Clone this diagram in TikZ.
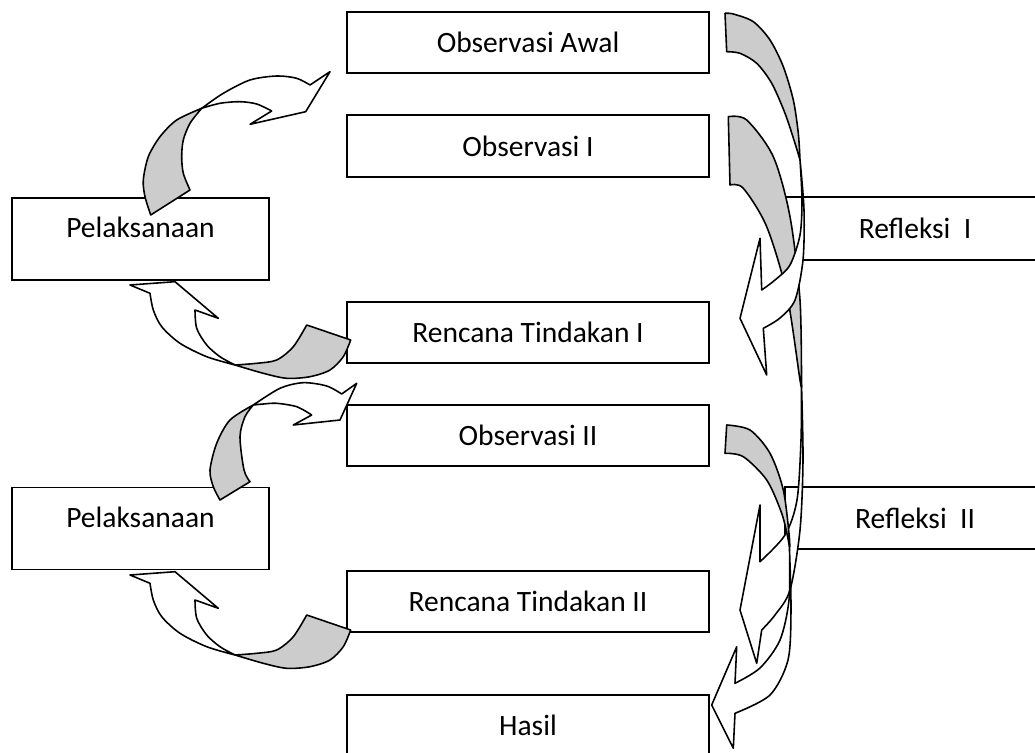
\documentclass[tikz,border=0pt]{standalone}
\usepackage{fontspec}
\setmainfont{Carlito}
\usetikzlibrary{positioning}
\definecolor{backgray}{RGB}{204,204,204}

\begin{document}
\begin{tikzpicture}[
  x=0.02cm, y=-0.02cm,
  font=\fontsize{16.8}{20}\selectfont,
  box/.style={draw, line width=1.1pt, fill=white, minimum width=7.24cm, minimum height=1.23cm, inner sep=0pt},
  sidebox/.style={draw, line width=1.1pt, fill=white, minimum width=5.14cm, minimum height=1.64cm, text height=0.41cm, text depth=0.47cm, inner sep=0pt},
  reflbox/.style={draw, line width=1.1pt, fill=white, minimum width=5.2cm, minimum height=1.25cm, inner sep=0pt},
  front/.style={draw, line width=0.9pt, fill=white, line join=round},
  back/.style={draw, line width=0.9pt, fill=backgray, line join=round}
]
\clip (0,0) rectangle (1035,753);
\fill[white] (0,0) rectangle (1035,753);

% boxes
\node[box] (obsawal) at (528,42.5) {Observasi Awal};
\node[box] (obs1) at (528,146) {Observasi I};
\node[box] (renc1) at (528,332.5) {Rencana Tindakan I};
\node[box] (obs2) at (528,435.5) {Observasi II};
\node[box] (renc2) at (528,601.5) {Rencana Tindakan II};
\node[box] (hasil) at (528,725.5) {Hasil};
\node[sidebox] (pel1) at (140.5,239) {Pelaksanaan};
\node[sidebox] (pel2) at (140.5,528.5) {Pelaksanaan};
\node[reflbox] (refl1) at (915,228.5) {Refleksi~~I};
\node[reflbox] (refl2) at (915,518) {Refleksi~~II};

% pelaksanaan -> observasi awal
\path[back] plot[smooth] coordinates {(150.7,215) (145,196.7) (143.3,180) (148.3,156.7) (160,136.7) (176.7,120) (201.7,108.3)}
  -- plot[smooth] coordinates {(201.7,108.3) (190,123.3) (183.3,140) (181.7,156.7) (183.3,173.3) (190,190)} -- cycle;
\path[front] plot[smooth] coordinates {(201.7,108.3) (223.3,93.3) (250,80) (276.7,76) (296.7,78.3) (310,85)}
  -- (330,71.7) -- (305.7,111.7) -- (250,124.3) -- (271.7,111)
  -- plot[smooth] coordinates {(271.7,111) (256.7,104) (240,101.7) (220,103.3) (201.7,108.3)} -- cycle;

% rencana -> pelaksanaan (twice)
\foreach \dy in {0,290} {
\begin{scope}[shift={(0,\dy)}]
\path[back] plot[smooth] coordinates {(350.7,340) (343.3,356.7) (330,370) (310,376.7) (286.7,378.3) (263.3,373.3) (235,365)}
  -- plot[smooth] coordinates {(235,365) (256.7,363.3) (276.7,360) (293.3,346.7) (306.7,325)} -- cycle;
\path[front] plot[smooth] coordinates {(235,365) (206.7,356.7) (180,343.3) (161.7,326.7) (153.3,310) (150,293.3)}
  -- (130,285) -- (175,281.7) -- (218.3,318.3) -- (195,310)
  -- plot[smooth] coordinates {(195,310) (196.7,328.3) (206.7,345) (220,356.7) (235,365)} -- cycle;
\end{scope}
}

% pelaksanaan -> observasi II
\path[back] plot[smooth] coordinates {(220,500) (213.3,486.7) (210,470) (216.7,443.3) (230,420) (253.3,405)}
  -- plot[smooth] coordinates {(253.3,405) (245,416.7) (240,436.7) (244,470) (250,481.7)} -- cycle;
\path[front] plot[smooth] coordinates {(253.3,405) (280,388.3) (303.3,382.7) (326.7,386) (341.7,394)}
  -- (356.7,383.3) -- (340,420) -- (293.3,425) -- (311.7,415)
  -- plot[smooth] coordinates {(311.7,415) (296.7,406.7) (276.7,403.3) (263.3,404) (253.3,405)} -- cycle;

% observasi I -> rencana II
\path[back] plot[smooth] coordinates {(728.3,116.7) (746.7,120) (773.3,156.7) (790,216.7) (800,300) (801.5,385)}
  -- plot[smooth] coordinates {(801.5,385) (800,380) (786.7,293.3) (766.7,226.7) (743.3,188.3) (730,185)} -- cycle;
\path[front] plot[smooth] coordinates {(801.5,385) (801,440) (797,500) (785,535) (760,561.7)}
  -- (760,505) -- (740,610) -- (756.7,663.3) -- (761.7,630)
  -- plot[smooth] coordinates {(761.7,630) (775,615) (790,590) (800,530) (803,460) (801.5,385)} -- cycle;

% observasi awal -> rencana I
\path[back] plot[smooth] coordinates {(725,13.3) (733.3,14) (753.3,21.7) (770,40) (783.3,66.7) (793.3,100) (798.3,133.3) (800,160)}
  -- plot[smooth] coordinates {(800,160) (795,143.3) (785,113.3) (771.7,83.3) (756.7,63.3) (740,53.3) (726.7,51.7)} -- cycle;
\path[front] plot[smooth] coordinates {(800,160) (802,200) (800,235) (790,265) (775,280) (761.7,290)}
  -- (760,238.3) -- (740,318.3) -- (766.7,375) -- (763.3,328.3)
  -- plot[smooth] coordinates {(763.3,328.3) (780,318) (795,300) (803,260) (804,210) (800,160)} -- cycle;

% observasi II -> hasil
\path[back] plot[smooth] coordinates {(726.7,425) (750,430) (770,453.3) (783.3,490) (789.3,536.7) (789.5,550)}
  -- plot[smooth] coordinates {(789.5,550) (788.3,540) (781.7,513.3) (766.7,480) (743.3,456.7) (725,453.3)} -- cycle;
\path[front] plot[smooth] coordinates {(789.5,550) (789,600) (780,640) (760,668) (735,683.3)}
  -- (736.7,646.7) -- (711.7,705) -- (733.3,748.3) -- (735,713.3)
  -- plot[smooth] coordinates {(735,713.3) (770,695) (788,660) (791,610) (789.5,550)} -- cycle;

\end{tikzpicture}
\end{document}
